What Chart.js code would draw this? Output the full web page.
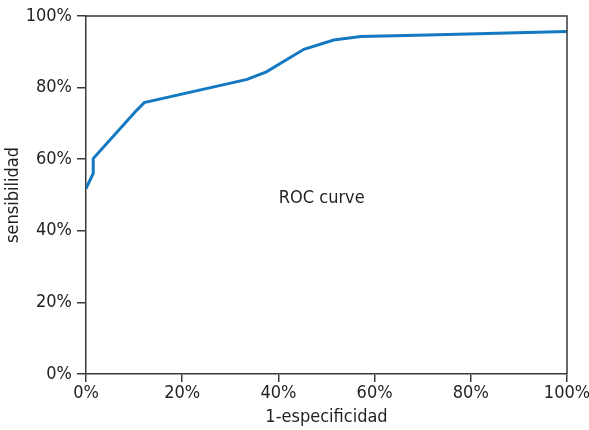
<!DOCTYPE html>
<html>
<head>
<meta charset="utf-8">
<script src="https://cdn.jsdelivr.net/npm/chart.js@4"></script>
<style>
  html, body { margin: 0; padding: 0; background: #fff; }
  #wrap { width: 589px; height: 430px; }
</style>
</head>
<body>
<div id="wrap"><canvas id="roc"></canvas></div>
<script>
// 1-especificidad (%) and sensibilidad (%)
const falsePositive = [0, 1.5, 1.5, 10.2, 12.1, 33.5, 37.5, 45.3, 51.5, 57.1, 71, 100];
const sensitivity   = [51.8, 56, 60.2, 73.2, 75.8, 82.3, 84.4, 90.7, 93.3, 94.3, 94.7, 95.7];
const axisTicks = [0, 20, 40, 60, 80, 100];
const curveLabel = "ROC curve";

const FONT = "'Liberation Sans Narrow', 'DejaVu Sans Condensed', Arial, sans-serif";
const INK = "#231f20";
const AXIS = "#3a3a3a";

const points = falsePositive.map((x, i) => ({ x, y: sensitivity[i] }));

// frame round the plot and the "ROC curve" caption
const framePlugin = {
    id: "frame",
    afterDraw(chart) {
        const { ctx, chartArea: a, scales } = chart;
        ctx.save();
        ctx.strokeStyle = AXIS;
        ctx.lineWidth = 1.5;
        ctx.beginPath();
        ctx.moveTo(a.left, a.top);
        ctx.lineTo(a.right, a.top);
        ctx.lineTo(a.right, a.bottom);
        ctx.stroke();

        ctx.fillStyle = INK;
        ctx.font = "18px " + FONT;
        ctx.textAlign = "center";
        ctx.textBaseline = "middle";
        ctx.fillText(curveLabel, scales.x.getPixelForValue(49), scales.y.getPixelForValue(49));
        ctx.restore();
    }
};

const tickFmt = v => v + "%";

new Chart(document.getElementById("roc"), {
    type: "scatter",
    data: {
        datasets: [{
            data: points,
            showLine: true,
            borderColor: "#1479c2",
            borderWidth: 3,
            pointRadius: 0,
            tension: 0
        }]
    },
    options: {
        responsive: true,
        maintainAspectRatio: false,
        animation: false,
        layout: { padding: { top: 16, right: 22, left: 0, bottom: 0 } },
        plugins: { legend: { display: false }, tooltip: { enabled: false } },
        scales: {
            x: {
                type: "linear",
                min: 0, max: 100,
                afterBuildTicks: s => { s.ticks = axisTicks.map(v => ({ value: v })); },
                afterFit: s => { s.height = 56; s.paddingLeft = 0; s.paddingRight = 0; },
                grid: { drawOnChartArea: false, tickLength: 8, color: AXIS, lineWidth: 1.5 },
                border: { color: AXIS, width: 1.5 },
                ticks: { callback: tickFmt, color: INK, font: { family: FONT, size: 18 }, padding: 1, maxRotation: 0 },
                title: { display: true, text: "1-especificidad", color: INK, font: { family: FONT, size: 18 }, padding: { top: 2, bottom: 2 } }
            },
            y: {
                type: "linear",
                min: 0, max: 100,
                afterBuildTicks: s => { s.ticks = axisTicks.map(v => ({ value: v })); },
                afterFit: s => { s.width = 86; s.paddingTop = 0; s.paddingBottom = 0; },
                grid: { drawOnChartArea: false, tickLength: 9, color: AXIS, lineWidth: 1.5 },
                border: { color: AXIS, width: 1.5 },
                ticks: { callback: tickFmt, color: INK, font: { family: FONT, size: 18 }, padding: 5 },
                title: { display: true, text: "sensibilidad", color: INK, font: { family: FONT, size: 18 }, padding: { top: 3, bottom: 0 } }
            }
        }
    },
    plugins: [framePlugin]
});
</script>
</body>
</html>
